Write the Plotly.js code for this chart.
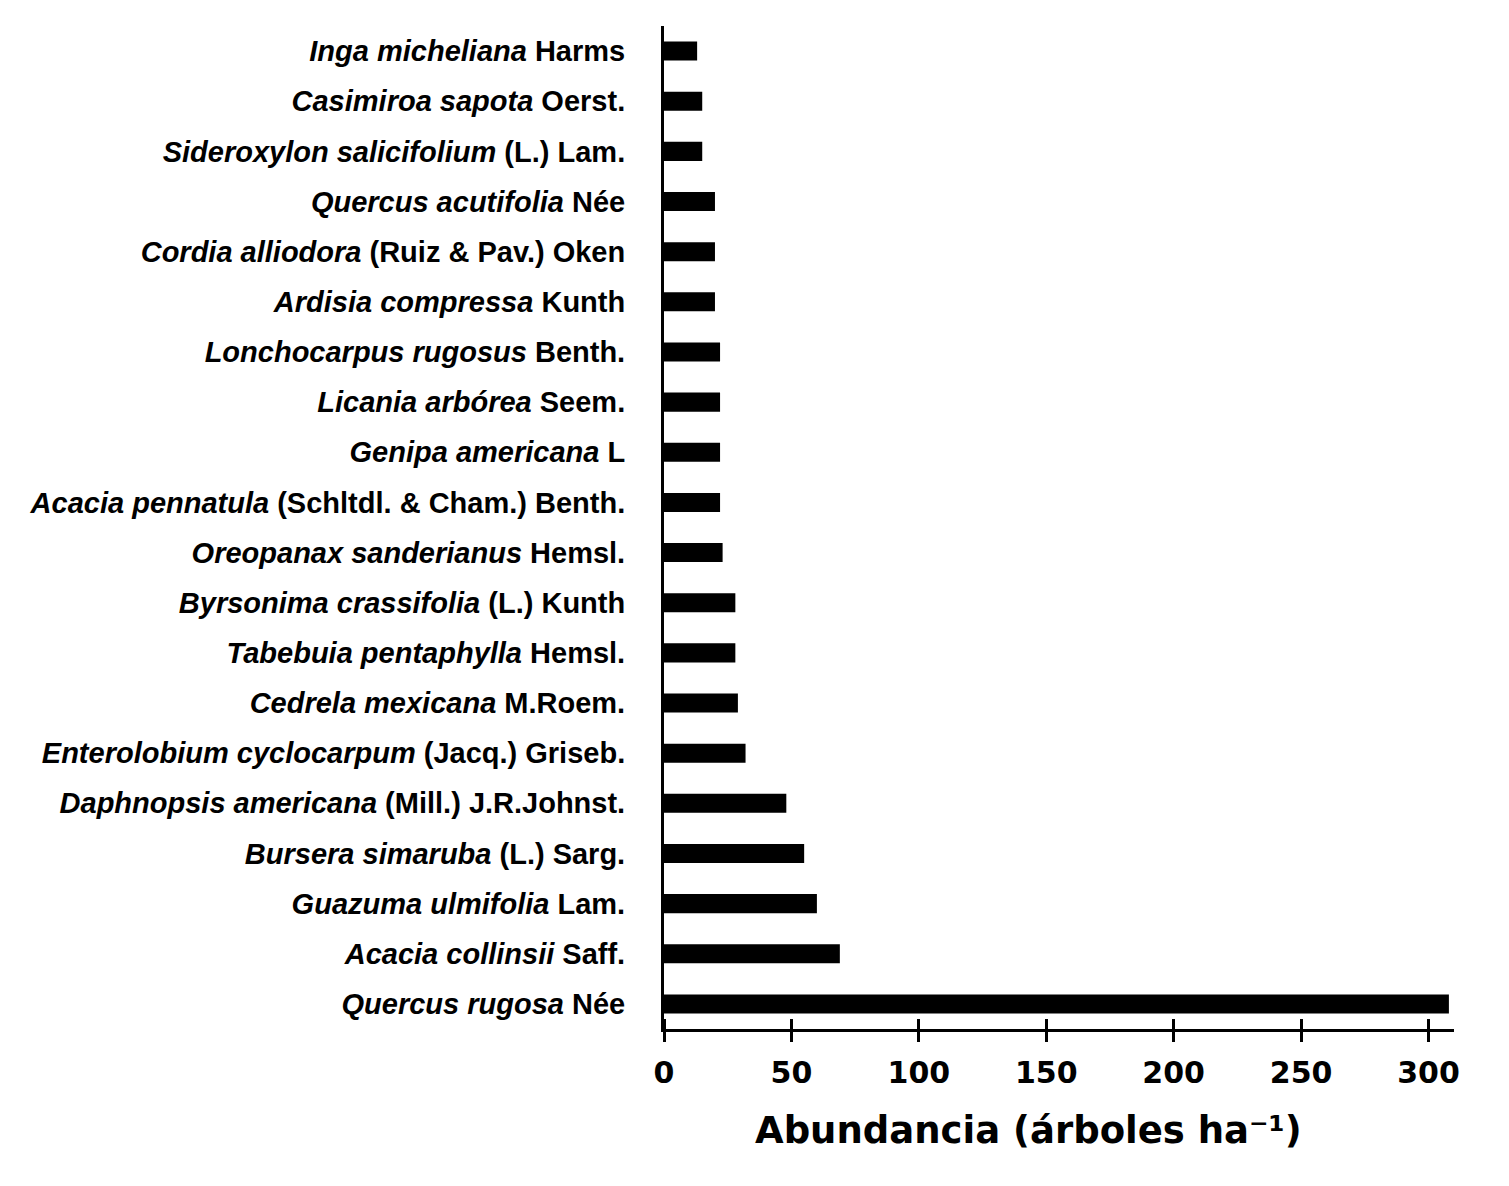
<!DOCTYPE html>
<html>
<head>
<meta charset="utf-8">
<script src="https://cdn.plot.ly/plotly-3.0.1.min.js"></script>
<style>html,body{margin:0;padding:0;background:#fff;}#chart{width:1509px;height:1186px;}</style>
</head>
<body>
<div id="chart"></div>
<script>
// top to bottom
var species = [
  "Inga micheliana", "Casimiroa sapota", "Sideroxylon salicifolium", "Quercus acutifolia",
  "Cordia alliodora", "Ardisia compressa", "Lonchocarpus rugosus", "Licania arbórea",
  "Genipa americana", "Acacia pennatula", "Oreopanax sanderianus", "Byrsonima crassifolia",
  "Tabebuia pentaphylla", "Cedrela mexicana", "Enterolobium cyclocarpum", "Daphnopsis americana",
  "Bursera simaruba", "Guazuma ulmifolia", "Acacia collinsii", "Quercus rugosa"
];
var authors = [
  "Harms", "Oerst.", "(L.) Lam.", "Née",
  "(Ruiz & Pav.) Oken", "Kunth", "Benth.", "Seem.",
  "L", "(Schltdl. & Cham.) Benth.", "Hemsl.", "(L.) Kunth",
  "Hemsl.", "M.Roem.", "(Jacq.) Griseb.", "(Mill.) J.R.Johnst.",
  "(L.) Sarg.", "Lam.", "Saff.", "Née"
];
var abundance = [13, 15, 15, 20, 20, 20, 22, 22, 22, 22, 23, 28, 28, 29, 32, 48, 55, 60, 69, 308];
var xTicks = [0, 50, 100, 150, 200, 250, 300];
var xTitle = "Abundancia (árboles ha⁻¹)";

var labels = species.map(function (s, i) { return "<b><i>" + s + "</i> " + authors[i] + "</b>"; });

var traces = [
  {
    type: "bar", orientation: "h", x: abundance, y: labels,
    marker: { color: "#000", line: { width: 0 } }, hoverinfo: "x+y"
  },
  {
    type: "scatter", mode: "markers", x: [0], y: [labels[0]], xaxis: "x2",
    marker: { opacity: 0 }, hoverinfo: "skip", showlegend: false
  }
];

var layout = {
  width: 1509, height: 1186,
  margin: { l: 664, r: 55, t: 26, b: 157 },
  paper_bgcolor: "#fff", plot_bgcolor: "#fff",
  showlegend: false,
  bargap: 0.62,
  xaxis: {
    range: [0, 310], tickvals: xTicks, ticktext: xTicks.map(String),
    showgrid: false, zeroline: false,
    showline: true, linecolor: "#000", linewidth: 3,
    ticks: "outside", ticklen: 10, tickwidth: 3, tickcolor: "#000",
    tickfont: { family: "DejaVu Sans", size: 30, color: "#000", weight: "bold" },
    ticklabelstandoff: 5
  },
  xaxis2: {
    overlaying: "x", anchor: "free", position: 0, side: "top",
    range: [0, 310], tickmode: "array", tickvals: xTicks,
    showgrid: false, zeroline: false, showline: false,
    ticks: "outside", ticklen: 10, tickwidth: 3, tickcolor: "#000",
    showticklabels: false
  },
  yaxis: {
    type: "category", range: [19.5, -0.5],
    showgrid: false, zeroline: false,
    showline: true, linecolor: "#000", linewidth: 3,
    ticks: "", ticklabelstandoff: 30,
    tickfont: { family: "Liberation Sans", size: 29, color: "#000" }
  },
  annotations: [{
    xref: "paper", yref: "paper", x: (1028 - 664) / 790, y: -(1130 - 1029) / 1003,
    xanchor: "center", yanchor: "middle", showarrow: false,
    text: "<b>" + xTitle + "</b>",
    font: { family: "DejaVu Sans", size: 37, color: "#000" }
  }]
};

Plotly.newPlot("chart", traces, layout, { displayModeBar: false, staticPlot: true });
</script>
</body>
</html>
